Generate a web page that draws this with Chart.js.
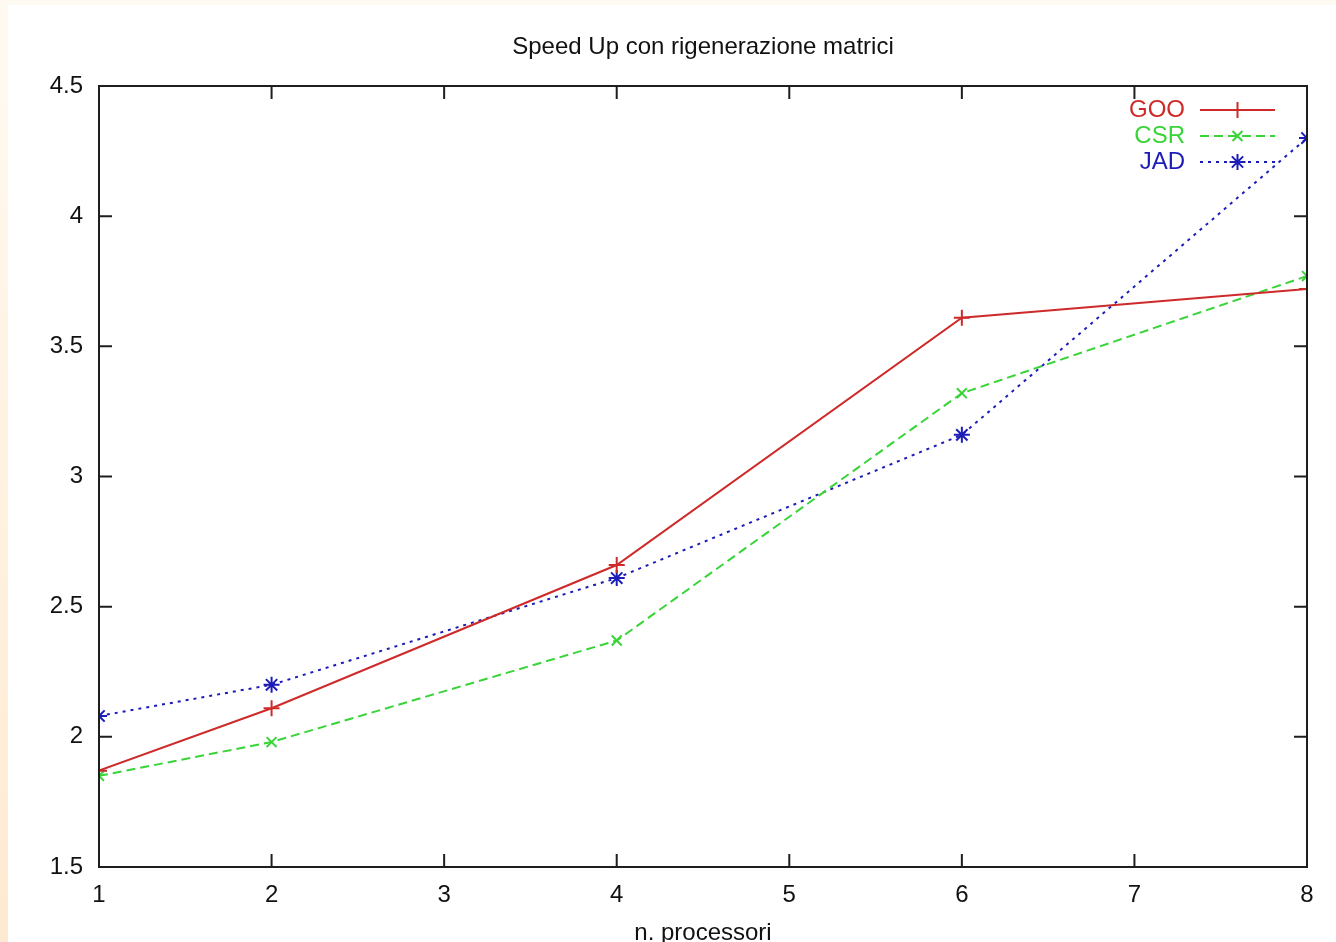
<!DOCTYPE html>
<html>
<head>
<meta charset="utf-8">
<title>Speed Up con rigenerazione matrici</title>
<script src="https://cdn.jsdelivr.net/npm/chart.js@4.4.1/dist/chart.umd.min.js"></script>
<style>
    html, body { margin: 0; padding: 0; background: #ffffff; overflow: hidden; }
    #wrap { position: relative; width: 1336px; height: 942px; }
    #strip-left { position: absolute; left: 0; top: 0; width: 8px; height: 942px;
        background: linear-gradient(#fffaf1, #feead2); }
    #strip-top { position: absolute; left: 0; top: 0; width: 1336px; height: 5px; background: #fffaf1; }
    canvas { position: absolute; left: 0; top: 0; }
</style>
</head>
<body>
<div id="wrap">
    <div id="strip-left"></div>
    <div id="strip-top"></div>
    <canvas id="chart" width="1336" height="942"></canvas>
</div>
<script>
// Dati
const processori = [1, 2, 4, 6, 8];
const gooValues = [1.87, 2.11, 2.66, 3.61, 3.72];
const csrValues = [1.85, 1.98, 2.37, 3.32, 3.77];
const jadValues = [2.08, 2.20, 2.61, 3.16, 4.30];

const xTicks = [1, 2, 3, 4, 5, 6, 7, 8];
const yTicks = [1.5, 2, 2.5, 3, 3.5, 4, 4.5];
const yTickLabels = ['1.5', '2', '2.5', '3', '3.5', '4', '4.5'];

const FONT = "'Liberation Sans', Arial, sans-serif";

function toPoints(values) {
    return processori.map((p, i) => ({ x: p, y: values[i] }));
}

// Cornice con tacche interne, stile gnuplot
const framePlugin = {
    id: 'frame',
    afterDatasetsDraw(chart) {
        const { ctx, chartArea: a, scales } = chart;
        const tl = 13;
        ctx.save();
        ctx.strokeStyle = '#1e1e1e';
        ctx.lineWidth = 2;
        ctx.strokeRect(a.left, a.top, a.right - a.left, a.bottom - a.top);
        ctx.beginPath();
        xTicks.forEach(v => {
            const px = scales.x.getPixelForValue(v);
            ctx.moveTo(px, a.bottom); ctx.lineTo(px, a.bottom - tl);
            ctx.moveTo(px, a.top); ctx.lineTo(px, a.top + tl);
        });
        yTicks.forEach(v => {
            const py = scales.y.getPixelForValue(v);
            ctx.moveTo(a.left, py); ctx.lineTo(a.left + tl, py);
            ctx.moveTo(a.right, py); ctx.lineTo(a.right - tl, py);
        });
        ctx.stroke();
        ctx.restore();
    }
};

// Legenda in alto a destra: testo a sinistra, campione di linea a destra
const legendPlugin = {
    id: 'gnuLegend',
    afterDraw(chart) {
        const { ctx, chartArea: a } = chart;
        const textRight = a.right - 122;
        const lineStart = a.right - 107;
        const lineEnd = a.right - 32;
        ctx.save();
        ctx.font = '24px ' + FONT;
        ctx.textAlign = 'right';
        ctx.textBaseline = 'middle';
        chart.data.datasets.forEach((ds, i) => {
            const y = a.top + 24 + i * 26;
            ctx.fillStyle = ds.borderColor;
            ctx.fillText(ds.label, textRight, y);
            ctx.strokeStyle = ds.borderColor;
            ctx.lineWidth = 2;
            ctx.setLineDash(ds.borderDash || []);
            ctx.beginPath();
            ctx.moveTo(lineStart, y);
            ctx.lineTo(lineEnd, y);
            ctx.stroke();
            ctx.setLineDash([]);
            Chart.helpers.drawPoint(ctx, {
                pointStyle: ds.pointStyle,
                rotation: 0,
                radius: ds.pointRadius,
                borderWidth: 2
            }, (lineStart + lineEnd) / 2, y);
        });
        ctx.restore();
    }
};

new Chart(document.getElementById('chart'), {
    type: 'line',
    data: {
        datasets: [
            {
                label: 'GOO',
                data: toPoints(gooValues),
                borderColor: '#cf2a2a',
                backgroundColor: '#cf2a2a',
                borderWidth: 2,
                pointStyle: 'cross',
                pointRadius: 8,
                pointBorderWidth: 2
            },
            {
                label: 'CSR',
                data: toPoints(csrValues),
                borderColor: '#38d438',
                backgroundColor: '#38d438',
                borderWidth: 2,
                borderDash: [9, 5],
                pointStyle: 'crossRot',
                pointRadius: 7,
                pointBorderWidth: 2
            },
            {
                label: 'JAD',
                data: toPoints(jadValues),
                borderColor: '#1c1cb8',
                backgroundColor: '#1c1cb8',
                borderWidth: 2,
                borderDash: [3, 5],
                pointStyle: 'star',
                pointRadius: 8,
                pointBorderWidth: 2
            }
        ]
    },
    options: {
        responsive: false,
        animation: false,
        devicePixelRatio: 1,
        layout: { padding: { left: 0, right: 29, top: 0, bottom: 0 } },
        plugins: {
            legend: { display: false },
            tooltip: { enabled: false }
        },
        scales: {
            x: {
                type: 'linear',
                min: 1,
                max: 8,
                afterBuildTicks: s => { s.ticks = xTicks.map(v => ({ value: v })); },
                afterFit: s => { s.height = 75; },
                grid: { display: false, drawTicks: false },
                border: { display: false },
                ticks: {
                    color: '#111',
                    padding: 14,
                    maxRotation: 0,
                    font: { family: FONT, size: 24 }
                },
                title: {
                    display: true,
                    text: 'n. processori',
                    color: '#111',
                    font: { family: FONT, size: 24 },
                    padding: { top: 10, bottom: -6 }
                }
            },
            // asse superiore usato solo per il titolo, centrato sull'area del grafico
            xTop: {
                type: 'linear',
                position: 'top',
                min: 1,
                max: 8,
                afterFit: s => { s.height = 86; },
                grid: { display: false, drawTicks: false },
                border: { display: false },
                ticks: { display: false },
                title: {
                    display: true,
                    text: 'Speed Up con rigenerazione matrici',
                    color: '#111',
                    font: { family: FONT, size: 24 },
                    padding: { top: 33, bottom: 0 }
                }
            },
            y: {
                min: 1.5,
                max: 4.5,
                afterBuildTicks: s => { s.ticks = yTicks.map(v => ({ value: v })); },
                afterFit: s => { s.width = 99; },
                grid: { display: false, drawTicks: false },
                border: { display: false },
                ticks: {
                    color: '#111',
                    padding: 16,
                    font: { family: FONT, size: 24 },
                    callback: (value, i) => yTickLabels[i]
                }
            }
        }
    },
    plugins: [framePlugin, legendPlugin]
});
</script>
</body>
</html>
